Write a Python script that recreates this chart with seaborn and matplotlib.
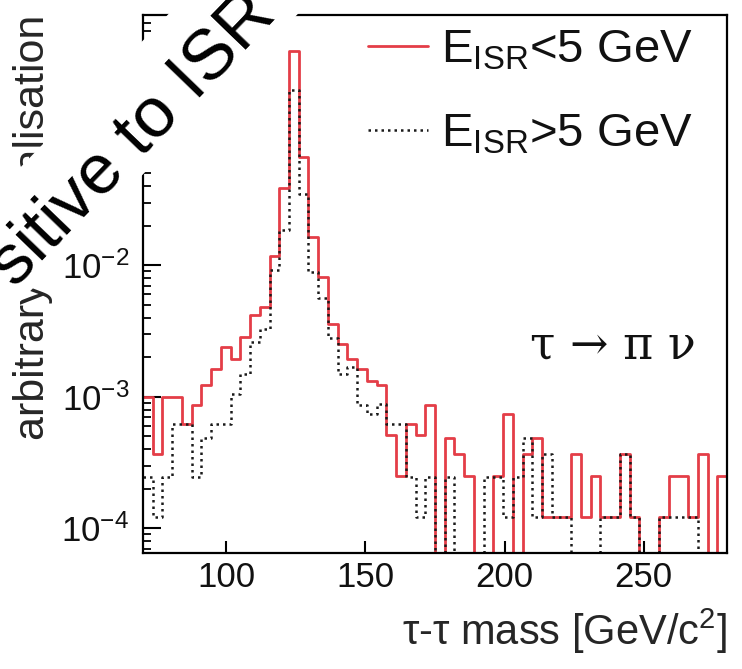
import numpy as np
import pandas as pd
import matplotlib
matplotlib.use("Agg")
import matplotlib.pyplot as plt
import seaborn as sns
from matplotlib.lines import Line2D
from matplotlib.patches import Rectangle
from matplotlib.transforms import IdentityTransform
from matplotlib.ticker import FixedLocator, LogLocator, NullFormatter, NullLocator

# binning of the tau-tau mass histograms
mass_lo, mass_hi, bin_width = 70.0, 280.0, 3.5
edges = np.arange(mass_lo, mass_hi + bin_width / 2, bin_width)
centres = 0.5 * (edges[:-1] + edges[1:])

# normalised bin contents, E_ISR < 5 GeV
isr_low = [
    9.9e-4, 3.7e-4, 9.9e-4, 9.9e-4, 6.2e-4, 8.6e-4, 1.22e-3, 1.64e-3, 2.4e-3, 1.95e-3,
    2.85e-3, 4.2e-3, 4.8e-3, 1.17e-2, 3.85e-2, 0.427, 6.7e-2, 1.64e-2, 8.1e-3, 3.6e-3,
    2.54e-3, 1.95e-3, 1.64e-3, 1.33e-3, 1.22e-3, 5.1e-4, 2.5e-4, 6.2e-4, 5.1e-4, 8.6e-4,
    0.0, 4.9e-4, 3.7e-4, 2.5e-4, 0.0, 0.0, 2.5e-4, 7.4e-4, 0.0, 3.7e-4,
    4.9e-4, 1.23e-4, 1.23e-4, 1.23e-4, 3.7e-4, 1.23e-4, 2.5e-4, 1.23e-4, 1.23e-4, 3.7e-4,
    1.23e-4, 0.0, 0.0, 1.23e-4, 2.5e-4, 2.5e-4, 1.23e-4, 3.7e-4, 0.0, 2.5e-4,
]

# normalised bin contents, E_ISR > 5 GeV
isr_high = [
    2.45e-4, 1.23e-4, 2.45e-4, 6.2e-4, 6.2e-4, 2.45e-4, 4.9e-4, 6.2e-4, 6.2e-4, 1.06e-3,
    1.5e-3, 2.6e-3, 3.3e-3, 9.2e-3, 1.85e-2, 0.214, 3.5e-2, 8.9e-3, 5.6e-3, 2.8e-3,
    1.5e-3, 1.7e-3, 8.6e-4, 7.4e-4, 8.9e-4, 6.2e-4, 6.2e-4, 2.45e-4, 1.23e-4, 2.45e-4,
    0.0, 2.45e-4, 0.0, 0.0, 0.0, 2.45e-4, 2.45e-4, 1.23e-4, 2.45e-4, 4.9e-4,
    1.23e-4, 3.7e-4, 1.23e-4, 1.23e-4, 0.0, 0.0, 0.0, 1.23e-4, 1.23e-4, 3.7e-4,
    1.23e-4, 0.0, 0.0, 1.23e-4, 1.23e-4, 1.23e-4, 1.23e-4, 0.0, 0.0, 0.0,
]

labels = [r"E$_{\mathregular{ISR}}$<5 GeV", r"E$_{\mathregular{ISR}}$>5 GeV"]
x_ticks = [100, 150, 200, 250]

red = "#e43d47"
black = "#1a1a1a"

sns.set_theme(style="ticks")
plt.rcParams.update({
    "font.family": ["Liberation Sans", "DejaVu Sans"],
    "mathtext.fontset": "custom",
    "mathtext.rm": "Liberation Sans",
    "mathtext.it": "Liberation Sans:italic",
    "mathtext.bf": "Liberation Sans:bold",
    "mathtext.default": "regular",
    "axes.linewidth": 1.6,
    "axes.edgecolor": "black",
    "text.color": "#111111",
})

df = pd.DataFrame({
    "mass": np.concatenate([centres, centres]),
    "weight": np.concatenate([isr_low, isr_high]),
    "sample": ["low"] * len(centres) + ["high"] * len(centres),
})

W, H = 742, 669
fig = plt.figure(figsize=(W / 100, H / 100), dpi=100)
ax = fig.add_axes([0.1927, 0.1734, 0.7871, 0.8042])

bin_list = edges.tolist()
sns.histplot(data=df[df["sample"] == "low"], x="mass", weights="weight", bins=bin_list,
             element="step", fill=False, color=red, linewidth=2.0, ax=ax)
sns.histplot(data=df[df["sample"] == "high"], x="mass", weights="weight", bins=bin_list,
             element="step", fill=False, color=black, linewidth=1.8,
             linestyle=(0, (1.0, 1.6)), ax=ax)

ax.set_yscale("log")
ax.set_xlim(mass_lo, mass_hi)
ax.set_ylim(6.5e-5, 0.8)

ax.xaxis.set_major_locator(FixedLocator(x_ticks))
ax.xaxis.set_minor_locator(NullLocator())
ax.yaxis.set_major_locator(LogLocator(base=10))
ax.yaxis.set_minor_locator(LogLocator(base=10, subs=np.arange(2, 10)))
ax.yaxis.set_minor_formatter(NullFormatter())

ax.tick_params(axis="x", which="major", direction="in", length=9, width=1.5,
               labelsize=25, pad=6, colors="black", labelcolor="#111111")
ax.tick_params(axis="y", which="major", direction="in", length=13, width=1.5,
               labelsize=25, pad=10, colors="black", labelcolor="#111111")
ax.tick_params(axis="y", which="minor", direction="in", length=6, width=1.3, colors="black")
for s in ax.spines.values():
    s.set_visible(True)
    s.set_linewidth(1.6)

ax.set_xlabel(r"τ-τ mass [GeV/c$^{2}$]", fontsize=30, loc="right", labelpad=9)
ax.set_ylabel("arbitrary normalisation", fontsize=31, loc="top", labelpad=6)

handles = [
    Line2D([], [], color=red, linewidth=2.0),
    Line2D([], [], color=black, linewidth=1.8, linestyle=(0, (1.0, 1.6))),
]
ax.legend(handles, labels, loc="upper right", bbox_to_anchor=(0.99, 1.028),
          frameon=False, fontsize=34, handlelength=1.27, handletextpad=0.28,
          labelspacing=0.85, borderaxespad=0.2)

ax.text(0.805, 0.385, "τ → π ν", transform=ax.transAxes,
        ha="center", va="center", fontsize=33, family=["DejaVu Serif"], color="#111111")

# white band carrying the slanted caption, drawn over the axes
band = Rectangle((125 - 300, H - 126 - 46.5), 600, 93, angle=46, rotation_point="center",
                 transform=IdentityTransform(), facecolor="white", edgecolor="none", zorder=9)
fig.add_artist(band)
fig.text(133 / W, 1 - 140 / H, "sitive to ISR", rotation=46, rotation_mode="anchor",
         ha="center", va="center", fontsize=51, color="black", zorder=10)

fig.savefig("out.png", dpi=100)
